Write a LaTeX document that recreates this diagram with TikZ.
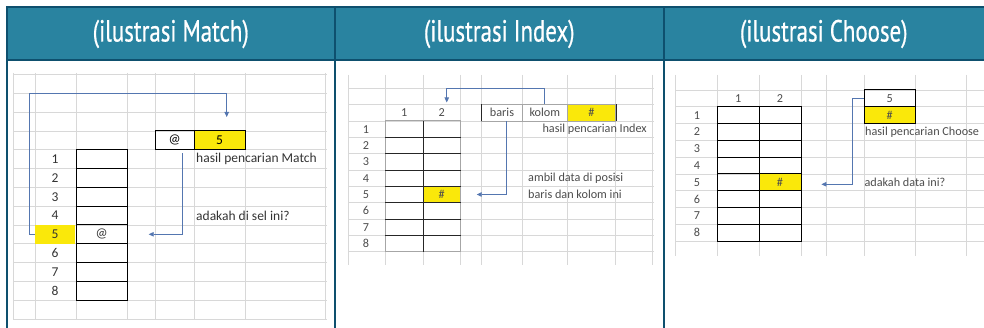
\documentclass[tikz,border=0pt]{standalone}
\usepackage{fontspec}
\setmainfont{Carlito}
\newfontfamily\headfont[FakeStretch=0.75,FakeBold=0.6]{PT Sans}
\usetikzlibrary{arrows.meta}
\definecolor{headfill}{RGB}{41,131,160}
\definecolor{edgeteal}{RGB}{14,80,110}
\definecolor{hl}{RGB}{250,232,10}
\definecolor{arrowblue}{RGB}{84,118,176}
\definecolor{gridgray}{RGB}{216,216,216}

\tikzstyle{head} = [text=white, font=\headfont\fontsize{30.5}{30.5}\selectfont, inner sep=0pt]
\tikzstyle{panelline} = [edgeteal, line width=2pt]
\tikzstyle{grid} = [gridgray, line width=0.6pt]
\tikzstyle{cell} = [draw=black, line width=0.8pt, inner sep=0pt]
\tikzstyle{softcell} = [draw=gray!70, line width=0.8pt, inner sep=0pt]
\tikzstyle{slot} = [inner sep=0pt]
\tikzstyle{hlcell} = [fill=hl, inner sep=0pt]
\tikzstyle{lab} = [inner sep=0pt, text=black!80]
\tikzstyle{hardline} = [black!85, line width=0.9pt]
\tikzstyle{softline} = [gray!70, line width=0.8pt]
\tikzstyle{matchtext} = [font=\fontsize{13.5}{13.5}\selectfont]
\tikzstyle{sheettext} = [font=\fontsize{12.2}{12.2}\selectfont, text=black!70]
\tikzstyle{arr} = [arrowblue, line width=0.8pt, -{Triangle[length=5pt,width=4.5pt]}]

\begin{document}
\begin{tikzpicture}[x=1pt, y=-1pt]
\useasboundingbox (0,0) rectangle (984,328);
\fill[headfill] (6.5,7) rectangle (984,60);
\node[head] (h-match) at (170.75,34) {(ilustrasi Match)};
\node[head] (h-index) at (499.25,34) {(ilustrasi Index)};
\node[head] (h-choose) at (823.75,34) {(ilustrasi Choose)};

\foreach \x in {13,35,76,127.3,155,194.3,245,325}
    \draw[grid] (\x,73) -- (\x,320);
\foreach \k in {0,...,13}
    \draw[grid] (13,{74.5+18.8*\k}) -- (327,{74.5+18.8*\k});
\foreach \x in {348,385.5,423,460.5,481.7,522.3,567.3,615.7,652}
    \draw[grid] (\x,75) -- (\x,265);
\foreach \k in {-2,...,8}
    \draw[grid] (348,{121+16.33*\k}) -- (654,{121+16.33*\k});
\foreach \x in {675,717.3,759,801,826.7,864.3,915,966}
    \draw[grid] (\x,75) -- (\x,256);
\foreach \k in {-1,...,8}
    \draw[grid] (675,{106.7+16.8*\k}) -- (984,{106.7+16.8*\k});

\node[hlcell, minimum width=40pt, minimum height=18.8pt] (m-lab5) at (55,234.3) {};
\foreach \i in {1,...,8} {
    \node[lab, matchtext] (m-l\i) at (55,{140.3+18.8*\i}) {\i};
    \node[cell, minimum width=51.3pt, minimum height=18.8pt] (m-r\i) at (101.65,{140.3+18.8*\i}) {};
}
\node[lab, matchtext] (m-found) at (m-r5) {@};
\node[cell, matchtext, minimum width=39.3pt, minimum height=18.8pt] (m-at) at (174.65,140.3) {@};
\node[cell, matchtext, fill=hl, minimum width=50.7pt, minimum height=18.8pt] (m-res) at (219.65,140.3) {5};
\node[lab, matchtext, anchor=west] (m-note1) at (196,159.1) {hasil pencarian Match};
\node[lab, matchtext, anchor=west] (m-note2) at (196,215.5) {adakah di sel ini?};
\coordinate (m-hook) at (226.7,93.3);
\coordinate (m-drop) at (226.7,117);
\draw[arr] (m-lab5.west) -- ++(-5,0) |- (m-hook) -- (m-drop);
\draw[arr, shorten >=21pt] ([xshift=8pt,yshift=-3pt]m-at.south) |- (m-r5.east);

\node[hlcell, minimum width=37.5pt, minimum height=16.33pt] (i-mark) at (441.75,194.5) {};
\foreach \i in {1,...,8} {
    \node[lab, sheettext] (i-l\i) at (366,{112.83+16.33*\i}) {\i};
    \node[slot, minimum width=37.5pt, minimum height=16.33pt] (i-a\i) at (404.25,{112.83+16.33*\i}) {};
    \node[slot, minimum width=37.5pt, minimum height=16.33pt] (i-b\i) at (441.75,{112.83+16.33*\i}) {};
}
\draw[softline] (i-a1.north west) rectangle (i-b8.south east);
\draw[hardline] (i-a1.north east) -- (i-a8.south east);
\foreach \i in {1,...,7}
    \draw[hardline] (i-a\i.south west) -- (i-b\i.south east);
\node[lab, sheettext] (i-found) at (i-b5) {\#};
\node[lab, sheettext, minimum height=16.33pt] (i-c1) at (404.25,112.8) {1};
\node[lab, sheettext, minimum height=16.33pt] (i-c2) at (441.75,112.8) {2};
\node[softcell, sheettext, minimum width=40.6pt, minimum height=16.33pt] (i-bar) at (502,112.8) {baris};
\node[softcell, sheettext, minimum width=45pt, minimum height=16.33pt] (i-kol) at (544.8,112.8) {kolom};
\node[softcell, sheettext, fill=hl, minimum width=48.4pt, minimum height=16.33pt] (i-res) at (591.5,112.8) {\#};
\draw[hardline] (i-bar.north west) -- (i-bar.south west);
\draw[hardline] (i-res.north east) -- (i-res.south east);
\node[lab, sheettext, anchor=east] (i-note1) at (647,129.2) {hasil pencarian Index};
\node[lab, sheettext, anchor=west] (i-note2) at (528,178.2) {ambil data di posisi};
\node[lab, sheettext, anchor=west] (i-note3) at (528,194.5) {baris dan kolom ini};
\draw[arr, shorten >=2pt] (i-kol.north) -- ++(0,-16) -| ([xshift=5pt]i-c2.north);
\draw[arr, shorten >=16pt] ([xshift=4pt]i-bar.south) |- (i-b5.east);

\node[hlcell, minimum width=42pt, minimum height=16.8pt] (c-mark) at (780,182.3) {};
\foreach \i in {1,...,8} {
    \node[lab, sheettext] (c-l\i) at (697,{98.3+16.8*\i}) {\i};
    \node[cell, minimum width=41.7pt, minimum height=16.8pt] (c-a\i) at (738.15,{98.3+16.8*\i}) {};
    \node[cell, minimum width=42pt, minimum height=16.8pt] (c-b\i) at (780,{98.3+16.8*\i}) {};
}
\node[lab, sheettext] (c-found) at (c-b5) {\#};
\node[lab, sheettext] (c-c1) at (738.15,98.3) {1};
\node[lab, sheettext] (c-c2) at (780,98.3) {2};
\node[cell, sheettext, minimum width=50.7pt, minimum height=16.8pt] (c-top) at (889.65,98.3) {5};
\node[cell, sheettext, fill=hl, minimum width=50.7pt, minimum height=16.8pt] (c-res) at (889.65,115.1) {\#};
\node[lab, sheettext, anchor=west] (c-note1) at (865,131.9) {hasil pencarian Choose};
\node[lab, sheettext, anchor=west] (c-note2) at (864.3,182.3) {adakah data ini?};
\draw[arr, shorten >=20pt] (c-top.west) -- ++(-11.6,0) |- ([yshift=-2pt]c-b5.east);

\draw[panelline] (984,7) -- (6.5,7) -- (6.5,328);
\draw[panelline] (6.5,60) -- (984,60);
\draw[panelline] (335,7) -- (335,328);
\draw[panelline] (663.5,7) -- (663.5,328);
\end{tikzpicture}
\end{document}
